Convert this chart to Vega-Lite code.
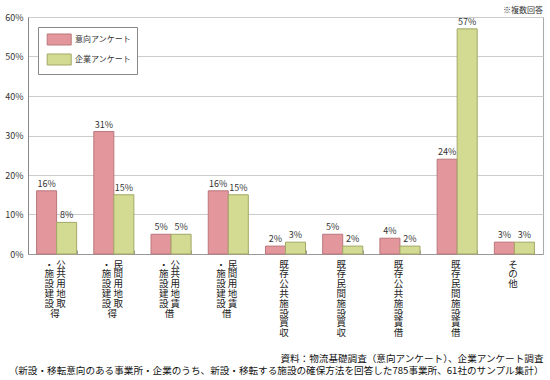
{
  "$schema": "https://vega.github.io/schema/vega-lite/v6.json",
  "width": 515,
  "height": 237,
  "autosize": "none",
  "padding": {"left": 28, "top": 17, "right": 7, "bottom": 126},
  "config": {
    "font": "Noto Sans CJK JP",
    "view": {"stroke": "#aaaaaa"}
  },
  "title": {
    "text": "※複数回答",
    "orient": "top",
    "anchor": "end",
    "frame": "group",
    "fontSize": 8,
    "fontWeight": "normal",
    "color": "#333333",
    "offset": -2
  },
  "data": {
    "values": [
      {"category": "公共用地取得・施設建設", "series": "意向アンケート", "value": 0.16},
      {"category": "公共用地取得・施設建設", "series": "企業アンケート", "value": 0.08},
      {"category": "民間用地取得・施設建設", "series": "意向アンケート", "value": 0.31},
      {"category": "民間用地取得・施設建設", "series": "企業アンケート", "value": 0.15},
      {"category": "公共用地賃借・施設建設", "series": "意向アンケート", "value": 0.05},
      {"category": "公共用地賃借・施設建設", "series": "企業アンケート", "value": 0.05},
      {"category": "民間用地賃借・施設建設", "series": "意向アンケート", "value": 0.16},
      {"category": "民間用地賃借・施設建設", "series": "企業アンケート", "value": 0.15},
      {"category": "既存公共施設買収", "series": "意向アンケート", "value": 0.02},
      {"category": "既存公共施設買収", "series": "企業アンケート", "value": 0.03},
      {"category": "既存民間施設買収", "series": "意向アンケート", "value": 0.05},
      {"category": "既存民間施設買収", "series": "企業アンケート", "value": 0.02},
      {"category": "既存公共施設賃借", "series": "意向アンケート", "value": 0.04},
      {"category": "既存公共施設賃借", "series": "企業アンケート", "value": 0.02},
      {"category": "既存民間施設賃借", "series": "意向アンケート", "value": 0.24},
      {"category": "既存民間施設賃借", "series": "企業アンケート", "value": 0.57},
      {"category": "その他", "series": "意向アンケート", "value": 0.03},
      {"category": "その他", "series": "企業アンケート", "value": 0.03}
    ]
  },
  "encoding": {
    "x": {
      "field": "category",
      "type": "nominal",
      "sort": null,
      "scale": {"paddingInner": 0.3, "paddingOuter": 0.15},
      "axis": {
        "title": [
          "資料：物流基礎調査（意向アンケート）、企業アンケート調査",
          "（新設・移転意向のある事業所・企業のうち、新設・移転する施設の確保方法を回答した785事業所、61社のサンプル集計）"
        ],
        "titleAnchor": "end",
        "titleAlign": "right",
        "titleFontSize": 9.6,
        "titleFontWeight": "normal",
        "titleLineHeight": 12,
        "titlePadding": 16,
        "titleColor": "#111111",
        "labelAngle": 0,
        "labelFontSize": 9.5,
        "labelLineHeight": 9.8,
        "labelPadding": 9,
        "labelOffset": -2,
        "labelColor": "#222222",
        "labelOverlap": false,
        "labelExpr": "indexof(datum.label,'・')>0 ? [substring(datum.label,6,7)+' '+substring(datum.label,0,1), substring(datum.label,7,8)+' '+substring(datum.label,1,2), substring(datum.label,8,9)+' '+substring(datum.label,2,3), substring(datum.label,9,10)+' '+substring(datum.label,3,4), substring(datum.label,10,11)+' '+substring(datum.label,4,5), '　 '+substring(datum.label,5,6)] : split(datum.label,'')",
        "ticks": true,
        "tickBand": "extent",
        "tickSize": -4,
        "tickColor": "#999999",
        "domainColor": "#999999"
      }
    },
    "xOffset": {
      "field": "series",
      "type": "nominal",
      "sort": ["意向アンケート", "企業アンケート"],
      "scale": {"paddingInner": 0, "paddingOuter": 0}
    },
    "y": {
      "field": "value",
      "type": "quantitative",
      "scale": {"domain": [0, 0.6], "nice": false},
      "axis": {
        "title": null,
        "values": [0, 0.1, 0.2, 0.3, 0.4, 0.5, 0.6],
        "format": ".0%",
        "labelFontSize": 9,
        "labelColor": "#333333",
        "labelPadding": 5,
        "ticks": false,
        "grid": true,
        "gridColor": "#cccccc",
        "domainColor": "#888888"
      }
    }
  },
  "layer": [
    {
      "mark": {"type": "bar", "strokeWidth": 1},
      "encoding": {
        "color": {
          "field": "series",
          "type": "nominal",
          "sort": ["意向アンケート", "企業アンケート"],
          "scale": {"domain": ["意向アンケート", "企業アンケート"], "range": ["#e3979c", "#d3da92"]},
          "legend": {
            "title": null,
            "orient": "top-left",
            "offset": 10,
            "fillColor": "#ffffff",
            "strokeColor": "#888888",
            "padding": 6,
            "labelFontSize": 8,
            "labelColor": "#333333",
            "labelOffset": 18,
            "rowPadding": 3,
            "symbolType": "M-0.55,-0.917H3.45V0.917H-0.55Z",
            "symbolSize": 144,
            "symbolStrokeWidth": 1
          }
        },
        "stroke": {
          "field": "series",
          "type": "nominal",
          "sort": ["意向アンケート", "企業アンケート"],
          "scale": {"domain": ["意向アンケート", "企業アンケート"], "range": ["#b9777c", "#a3a866"]},
          "legend": {
            "title": null,
            "orient": "top-left",
            "offset": 10,
            "fillColor": "#ffffff",
            "strokeColor": "#888888",
            "padding": 6,
            "labelFontSize": 8,
            "labelColor": "#333333",
            "labelOffset": 18,
            "rowPadding": 3,
            "symbolType": "M-0.55,-0.917H3.45V0.917H-0.55Z",
            "symbolSize": 144,
            "symbolStrokeWidth": 1
          }
        }
      }
    },
    {
      "mark": {"type": "text", "baseline": "bottom", "dy": -2, "fontSize": 9, "color": "#333333"},
      "encoding": {
        "text": {"field": "value", "type": "quantitative", "format": ".0%"},
        "y": {"field": "value", "type": "quantitative"}
      }
    }
  ]
}
